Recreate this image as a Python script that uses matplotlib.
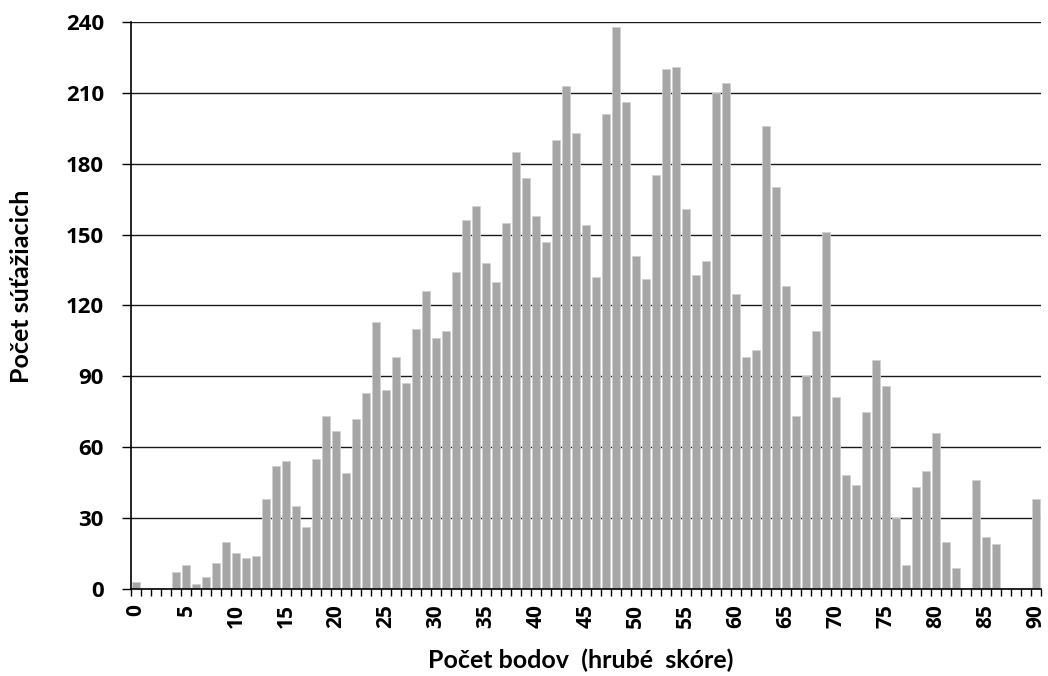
import numpy as np
import matplotlib
matplotlib.use("Agg")
import matplotlib.pyplot as plt
from matplotlib.ticker import FixedLocator

scores = list(range(0, 91))
counts = [3, 0, 0, 0, 7, 10, 2, 5, 11, 20,
          15, 13, 14, 38, 52, 54, 35, 26, 55, 73,
          67, 49, 72, 83, 113, 84, 98, 87, 110, 126,
          106, 109, 134, 156, 162, 138, 130, 155, 185, 174,
          158, 147, 190, 213, 193, 154, 132, 201, 238, 206,
          141, 131, 175, 220, 221, 161, 133, 139, 210, 214,
          125, 98, 101, 196, 170, 128, 73, 90, 109, 151,
          81, 48, 44, 75, 97, 86, 30, 10, 43, 50,
          66, 20, 9, 0, 46, 22, 19, 0, 0, 0,
          38]
y_ticks = [0, 30, 60, 90, 120, 150, 180, 210, 240]
x_label_ticks = list(range(0, 91, 5))
x_title = "Počet bodov  (hrubé  skóre)"
y_title = "Počet súťažiacich"

FONT = ["Lato", "DejaVu Sans"]
TICKFONT = ["Open Sans", "DejaVu Sans"]

fig = plt.figure(figsize=(10.48, 6.76), dpi=100)
ax = fig.add_axes([0.125, 0.129, 0.868, 0.8385])

ax.set_axisbelow(True)
ax.yaxis.grid(True, color="#1a1a1a", linewidth=1.0)
ax.bar(scores, counts, width=0.82, color="#A6A6A6", edgecolor="#D0D0D0", linewidth=0.6, zorder=2)

ax.set_xlim(-0.5, 90.5)
ax.set_ylim(0, 240)
ax.set_yticks(y_ticks)
ax.set_yticklabels([str(v) for v in y_ticks], fontsize=16, fontweight="bold", family=TICKFONT)
ax.tick_params(axis="y", length=6.5, width=1, direction="out", pad=13)

ax.xaxis.set_major_locator(FixedLocator(x_label_ticks))
ax.set_xticklabels([str(v) for v in x_label_ticks], rotation=90, fontsize=15,
                   fontweight="bold", family=TICKFONT)
ax.tick_params(axis="x", which="major", length=0, pad=11)
ax.xaxis.set_minor_locator(FixedLocator(np.arange(-0.5, 91, 1.0)))
ax.tick_params(axis="x", which="minor", length=5, width=1, direction="out")

for s in ["top", "right"]:
    ax.spines[s].set_visible(False)
ax.spines["left"].set_color("black")
ax.spines["bottom"].set_color("black")
ax.spines["left"].set_linewidth(1.2)
ax.spines["bottom"].set_linewidth(1.2)

fig.text(581 / 1048, 1 - 668 / 676, x_title, fontsize=18, fontweight="bold", family=FONT,
         ha="center", va="baseline")
fig.text(22 / 1048, 1 - 286 / 676, y_title, fontsize=18, fontweight="bold", family=FONT,
         ha="center", va="center", rotation=90)

fig.savefig("out.png", dpi=100)
